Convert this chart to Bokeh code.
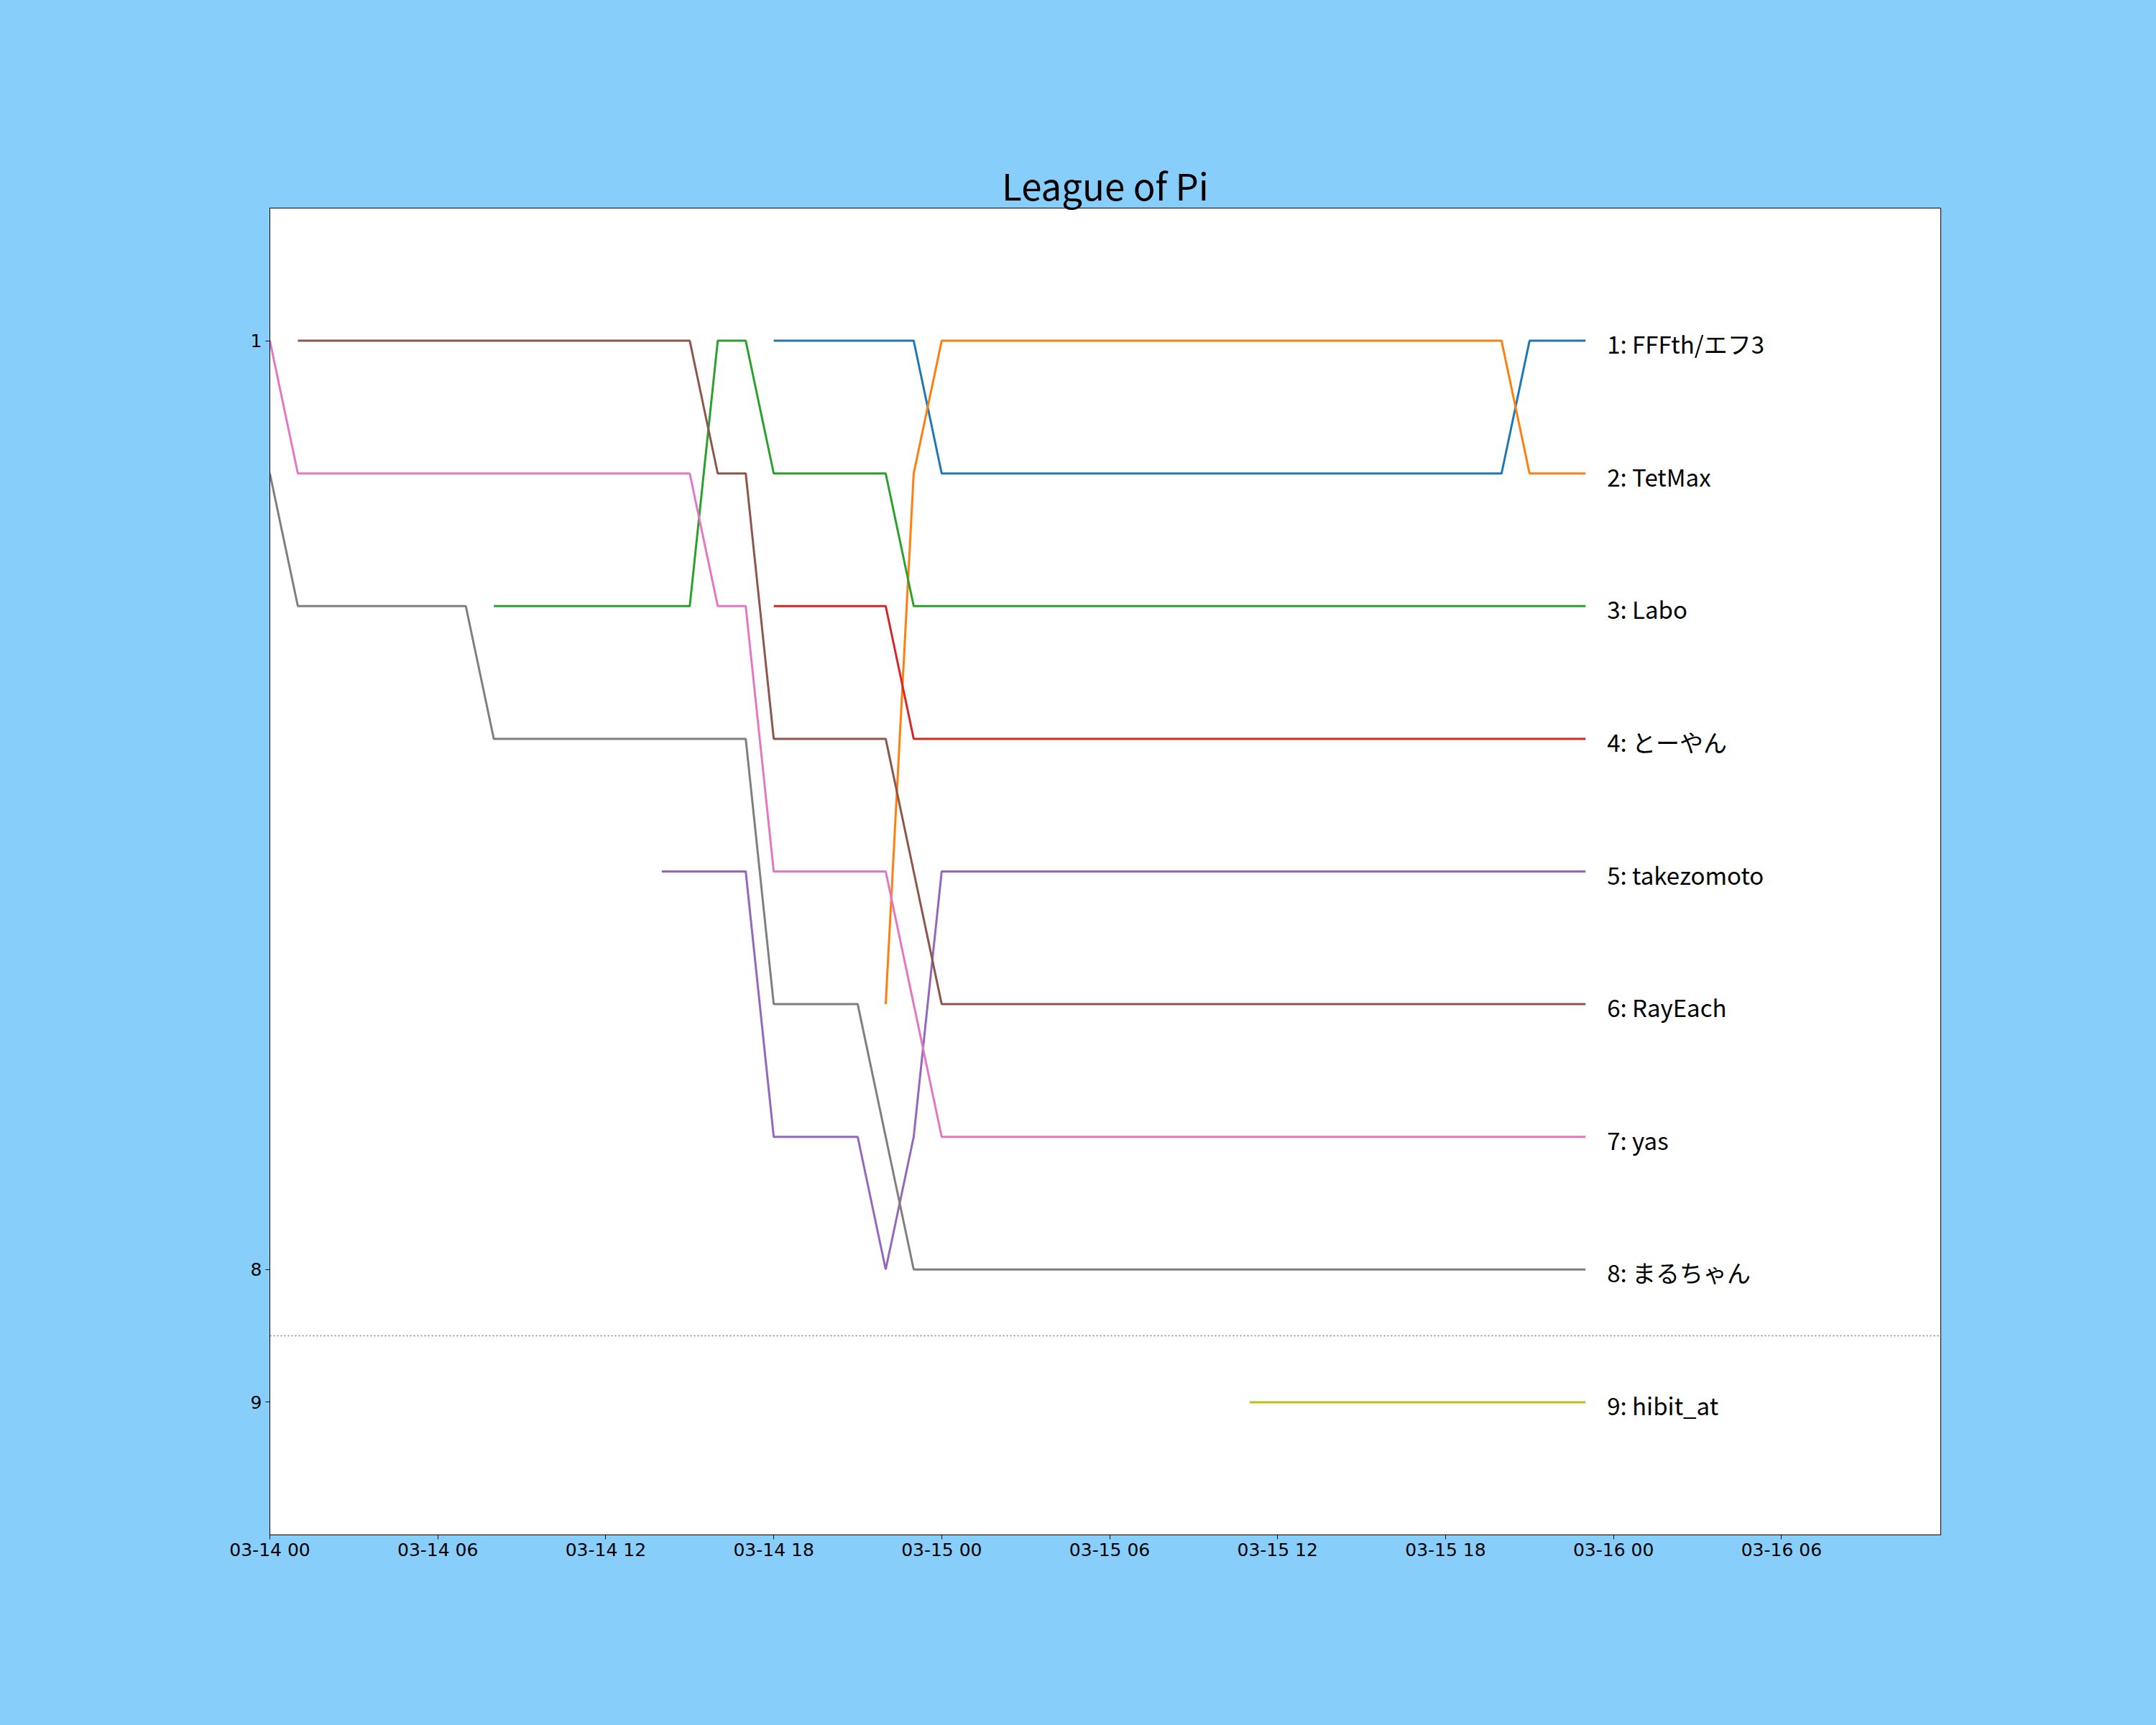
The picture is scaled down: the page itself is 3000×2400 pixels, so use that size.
import numpy as np
import pandas as pd
from bokeh.plotting import figure
from bokeh.models import (ColumnDataSource, Range1d, FixedTicker, DatetimeTickFormatter, Span)
from bokeh.core.properties import value
from bokeh.embed import file_html
from bokeh.resources import INLINE

# ---------------- data ----------------
title = "League of Pi"
start = pd.Timestamp("2020-03-14 00:00")
times = pd.date_range(start, periods=48, freq="h")

names = ["FFFth/エフ3", "TetMax", "Labo", "とーやん", "takezomoto",
         "RayEach", "yas", "まるちゃん", "hibit_at"]
colors = ["#1f77b4", "#ff7f0e", "#2ca02c", "#d62728", "#9467bd",
          "#8c564b", "#e377c2", "#7f7f7f", "#bcbd22"]

N = None
rank_fffth = [N, N, N, N, N, N, N, N, N, N, N, N, N, N, N, N, N, N,
              1, 1, 1, 1, 1, 1,
              2, 2, 2, 2, 2, 2, 2, 2, 2, 2, 2, 2, 2, 2, 2, 2, 2, 2, 2, 2, 2,
              1, 1, 1]
rank_tetmax = [N, N, N, N, N, N, N, N, N, N, N, N, N, N, N, N, N, N, N, N, N, N,
               6, 2,
               1, 1, 1, 1, 1, 1, 1, 1, 1, 1, 1, 1, 1, 1, 1, 1, 1, 1, 1, 1, 1,
               2, 2, 2]
rank_labo = [N, N, N, N, N, N, N, N,
             3, 3, 3, 3, 3, 3, 3, 3,
             1, 1,
             2, 2, 2, 2, 2,
             3, 3, 3, 3, 3, 3, 3, 3, 3, 3, 3, 3, 3, 3, 3, 3, 3, 3, 3, 3, 3, 3, 3, 3, 3]
rank_toyan = [N, N, N, N, N, N, N, N, N, N, N, N, N, N, N, N, N, N,
              3, 3, 3, 3, 3,
              4, 4, 4, 4, 4, 4, 4, 4, 4, 4, 4, 4, 4, 4, 4, 4, 4, 4, 4, 4, 4, 4, 4, 4, 4]
rank_takezo = [N, N, N, N, N, N, N, N, N, N, N, N, N, N,
               5, 5, 5, 5,
               7, 7, 7, 7,
               8, 7,
               5, 5, 5, 5, 5, 5, 5, 5, 5, 5, 5, 5, 5, 5, 5, 5, 5, 5, 5, 5, 5, 5, 5, 5]
rank_rayeach = [N,
                1, 1, 1, 1, 1, 1, 1, 1, 1, 1, 1, 1, 1, 1, 1,
                2, 2,
                4, 4, 4, 4, 4,
                5,
                6, 6, 6, 6, 6, 6, 6, 6, 6, 6, 6, 6, 6, 6, 6, 6, 6, 6, 6, 6, 6, 6, 6, 6]
rank_yas = [1,
            2, 2, 2, 2, 2, 2, 2, 2, 2, 2, 2, 2, 2, 2, 2,
            3, 3,
            5, 5, 5, 5, 5,
            6,
            7, 7, 7, 7, 7, 7, 7, 7, 7, 7, 7, 7, 7, 7, 7, 7, 7, 7, 7, 7, 7, 7, 7, 7]
rank_maru = [2,
             3, 3, 3, 3, 3, 3, 3,
             4, 4, 4, 4, 4, 4, 4, 4, 4, 4,
             6, 6, 6, 6,
             7,
             8, 8, 8, 8, 8, 8, 8, 8, 8, 8, 8, 8, 8, 8, 8, 8, 8, 8, 8, 8, 8, 8, 8, 8, 8]
rank_hibit = [N, N, N, N, N, N, N, N, N, N, N, N, N, N, N, N, N, N, N, N,
              N, N, N, N, N, N, N, N, N, N, N, N, N, N, N,
              9, 9, 9, 9, 9, 9, 9, 9, 9, 9, 9, 9, 9]

ranks = [rank_fffth, rank_tetmax, rank_labo, rank_toyan, rank_takezo,
         rank_rayeach, rank_yas, rank_maru, rank_hibit]

y_ticks = [1, 8, 9]
x_tick_hours = [0, 6, 12, 18, 24, 30, 36, 42, 48, 54]
separator_rank = 8.5

# ---------------- figure ----------------
BG = "#87CEFA"
x_end = start + pd.Timedelta(hours=59.69)

p = figure(width=2992, height=2392, x_axis_type="datetime",
           output_backend="svg", toolbar_location=None,
           x_range=Range1d(start, x_end), y_range=Range1d(10, 0),
           min_border_left=375, min_border_right=292,
           min_border_top=289, min_border_bottom=257)

p.border_fill_color = BG
p.background_fill_color = "white"
p.outline_line_color = "black"
p.outline_line_width = 1
p.grid.visible = False

p.title.text = title
p.title.align = "center"
p.title.text_font = "Noto Sans CJK JP"
p.title.text_font_size = "51px"
p.title.text_font_style = "normal"
p.title.text_color = "black"
p.title.standoff = -8

for ax in (p.xaxis[0], p.yaxis[0]):
    ax.axis_line_color = "black"
    ax.axis_line_width = 1
    ax.major_tick_line_color = "black"
    ax.major_tick_in = 0
    ax.major_tick_out = 6
    ax.minor_tick_line_color = None
    ax.major_label_text_font = "DejaVu Sans"
    ax.major_label_text_font_size = "25px"
    ax.major_label_text_color = "black"
    ax.major_label_standoff = 5
p.xaxis[0].major_label_standoff = 0

p.yaxis.ticker = FixedTicker(ticks=y_ticks)
tick_ms = [(start + pd.Timedelta(hours=h)).value / 1e6 for h in x_tick_hours]
p.xaxis.ticker = FixedTicker(ticks=tick_ms)
fmt = "%m-%d %H"
p.xaxis.formatter = DatetimeTickFormatter(hours=fmt, hourmin=fmt, days=fmt,
                                          months=fmt, minutes=fmt, minsec=fmt,
                                          seconds=fmt, milliseconds=fmt,
                                          microseconds=fmt, years=fmt)

p.add_layout(Span(location=separator_rank, dimension="width",
                  line_color="#808080", line_dash="2 3", line_width=1.5))

label_x, label_y, label_txt = [], [], []
for name, col, r in zip(names, colors, ranks):
    y = np.array([np.nan if v is None else v for v in r], dtype=float)
    src = ColumnDataSource(dict(x=times, y=y))
    p.line("x", "y", source=src, line_color=col, line_width=3)
    final = int(y[-1])
    label_x.append(times[-1])
    label_y.append(final)
    label_txt.append(f"{final}: {name}")

lsrc = ColumnDataSource(dict(x=label_x, y=label_y, t=label_txt))
p.text("x", "y", text="t", source=lsrc, x_offset=30, y_offset=4,
       text_font=value("Noto Sans CJK JP"), text_font_size="33px",
       text_baseline="middle", text_align="left", text_color="black")

html = file_html(p, INLINE).replace("<body>", '<body style="background-color:#87CEFA;">')
open("out.html", "w").write(html)
